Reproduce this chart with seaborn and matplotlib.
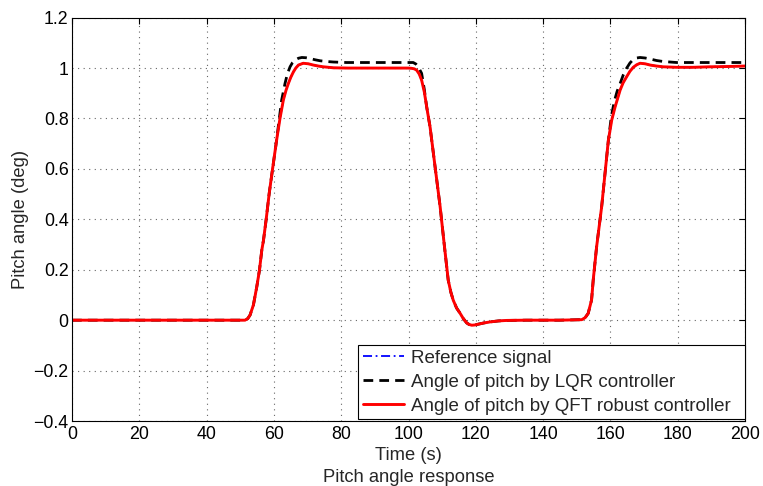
import numpy as np
import pandas as pd
import matplotlib
matplotlib.use("Agg")
import matplotlib.pyplot as plt
import seaborn as sns

# ---- data ----
qft_t = [0, 50, 51.4, 52.2, 52.9, 53.9, 54.9, 55.7, 56.4, 56.9, 57.7, 58.6, 59.6, 60.8,
         61.8, 62.8, 63.6, 64.3, 65.0, 65.8, 66.5, 67.3, 68.7, 70.2, 71.7, 73.2, 74.7,
         77.7, 82, 90, 100, 100.9, 101.7, 102.4, 103.2, 103.9, 104.7, 105.4, 106.4, 107.9,
         109.4, 110.8, 111.8, 112.6, 113.3, 114.3, 115.3, 116.3, 117.3, 118.0, 118.8, 119.7,
         120.7, 122.4, 124.2, 126.7, 129.2, 135, 145, 151.5, 152.5, 153.4, 154.4, 154.9,
         155.9, 157.4, 158.4, 159.4, 160.4, 161.4, 162.9, 163.8, 164.8, 165.8, 166.8,
         167.8, 168.8, 170.3, 171.8, 173.7, 175.7, 179.7, 184.6, 189.6, 194.5, 200]
qft_y = [0, 0, 0, 0.006, 0.02, 0.06, 0.132, 0.198, 0.278, 0.317, 0.4, 0.503, 0.6, 0.714,
         0.8, 0.873, 0.912, 0.939, 0.963, 0.985, 1.0, 1.012, 1.019, 1.017, 1.012, 1.008, 1.005,
         1.001, 1.0, 1.0, 1.0, 0.999, 0.997, 0.992, 0.976, 0.952, 0.905, 0.846, 0.767, 0.608,
         0.45, 0.278, 0.159, 0.11, 0.079, 0.048, 0.028, 0.006, -0.011, -0.017, -0.02, -0.019,
         -0.016, -0.011, -0.007, -0.003, -0.001, 0, 0, 0.002, 0.01, 0.027, 0.08, 0.16,
         0.291, 0.45, 0.582, 0.714, 0.794, 0.846, 0.913, 0.942, 0.965, 0.987, 1.003,
         1.013, 1.019, 1.017, 1.012, 1.008, 1.005, 1.003, 1.003, 1.005, 1.006, 1.008]

ref_t = list(qft_t)
ref_y = list(qft_y)

lqr_t = [0, 50, 51.4, 52.2, 52.9, 53.9, 54.9, 55.7, 56.4, 56.9, 57.7, 58.6, 59.6, 60.8,
         61.6, 62.3, 63.3, 64.0, 64.8, 65.5, 66.3, 67.3, 68.3, 69.5, 70.7, 72.2, 73.7,
         75.7, 77.7, 81.6, 90, 100, 101.4, 102.2, 102.9, 103.9, 104.7, 105.4, 106.4, 107.9,
         109.4, 110.8, 111.8, 112.6, 113.3, 114.3, 115.3, 116.3, 117.3, 118.0, 118.8, 119.7,
         120.7, 122.4, 124.2, 126.7, 129.2, 135, 145, 151.5, 152.5, 153.4, 154.4, 154.9,
         155.9, 157.4, 158.4, 159.4, 160.3, 161.2, 162.0, 162.9, 163.8, 164.8, 165.8,
         166.8, 167.8, 168.8, 170.3, 171.8, 173.7, 175.7, 179.7, 190, 200]
lqr_y = [0, 0, 0, 0.006, 0.02, 0.06, 0.132, 0.198, 0.278, 0.317, 0.4, 0.503, 0.6, 0.714,
         0.8, 0.873, 0.939, 0.977, 1.005, 1.021, 1.032, 1.039, 1.042, 1.041, 1.038, 1.033, 1.029,
         1.026, 1.024, 1.022, 1.022, 1.022, 1.022, 1.016, 1.005, 0.979, 0.915, 0.846, 0.767,
         0.608, 0.45, 0.278, 0.159, 0.11, 0.079, 0.048, 0.028, 0.006, -0.011, -0.017, -0.02,
         -0.019, -0.016, -0.011, -0.007, -0.003, -0.001, 0, 0, 0.002, 0.01, 0.027, 0.08, 0.16,
         0.291, 0.45, 0.582, 0.714, 0.81, 0.87, 0.908, 0.939, 0.972, 0.999, 1.02,
         1.034, 1.04, 1.042, 1.04, 1.036, 1.03, 1.026, 1.022, 1.022, 1.022]

x_ticks = [0, 20, 40, 60, 80, 100, 120, 140, 160, 180, 200]
y_ticks = [-0.4, -0.2, 0, 0.2, 0.4, 0.6, 0.8, 1, 1.2]
y_tick_labels = ["\u22120.4", "\u22120.2", "0", "0.2", "0.4", "0.6", "0.8", "1", "1.2"]
series_labels = ["Reference signal", "Angle of pitch by LQR controller",
                 "Angle of pitch by QFT robust controller"]

# ---- style ----
sns.set_style("white")
plt.rcParams["font.family"] = ["Liberation Sans", "DejaVu Sans"]
plt.rcParams["font.size"] = 13

fig = plt.figure(figsize=(7.63, 4.86), dpi=100)
ax = fig.add_axes([0.0944, 0.1337, 0.882, 0.830])

sns.lineplot(x=ref_t, y=ref_y, ax=ax, color="#0000ff", linewidth=1.3,
             label=series_labels[0])
ax.lines[-1].set_dashes([5, 2, 1, 2])
sns.lineplot(x=lqr_t, y=lqr_y, ax=ax, color="black", linewidth=2.0,
             label=series_labels[1])
ax.lines[-1].set_dashes([3.5, 2.2])
sns.lineplot(x=qft_t, y=qft_y, ax=ax, color="#ff0000", linewidth=2.1,
             label=series_labels[2])

ax.set_xlim(0, 200)
ax.set_ylim(-0.4, 1.2)
ax.set_xticks(x_ticks)
ax.set_xticklabels([str(v) for v in x_ticks])
ax.set_yticks(y_ticks)
ax.set_yticklabels(y_tick_labels)
ax.tick_params(direction="in", length=4, width=0.8, top=True, right=True,
               labelsize=12.8, colors="black")
ax.tick_params(axis="x", pad=3.5)
ax.tick_params(axis="y", pad=2.5)
for s in ax.spines.values():
    s.set_color("black")
    s.set_linewidth(0.8)
ax.grid(True, color="#666666", linestyle=(0, (1, 4)), linewidth=0.8)
ax.set_axisbelow(True)

ax.set_xlabel("Time (s)", fontsize=13.2, labelpad=3)
ax.set_ylabel("Pitch angle (deg)", fontsize=13.2, labelpad=3)
fig.text(0.0944 + 0.882 * 0.5, 1 - 477 / 486, "Pitch angle response",
         ha="center", va="center", fontsize=13.2)

leg = ax.legend(loc="lower left", bbox_to_anchor=(0.425, 0.004, 0.575, 0.2),
                mode="expand", frameon=True,
                fancybox=False, edgecolor="black", framealpha=1, fontsize=13.5,
                handlelength=2.2, handletextpad=0.35, borderpad=0.25,
                labelspacing=0.36, borderaxespad=0.0)
leg.get_frame().set_linewidth(0.8)

fig.savefig("out.png", dpi=100)
